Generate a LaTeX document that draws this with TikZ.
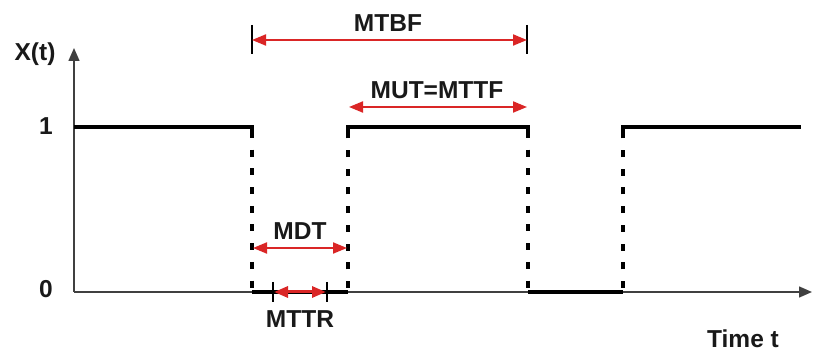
\documentclass[tikz,border=0pt]{standalone}
\usepackage{fontspec}
\setmainfont{Liberation Sans}
\usetikzlibrary{arrows.meta}
\definecolor{dimred}{RGB}{218,38,38}
\begin{document}
\begin{tikzpicture}[x=1pt,y=-1pt,
  lbl/.style={font=\fontsize{24.5}{24.5}\selectfont\bfseries, inner sep=0pt, text=black!90},
  sig/.style={line width=3.2pt, line join=miter},
  dsh/.style={line width=3.2pt, dash pattern=on 7pt off 11.7pt, dash phase=-4pt},
  axis/.style={line width=1.5pt, draw=black!75, -{Triangle[length=13pt,width=11pt]}},
  dim/.style={draw=dimred, line width=2pt, {Triangle[length=14pt,width=11pt]}-{Triangle[length=14pt,width=11pt]}},
  tickline/.style={line width=2pt}]
\useasboundingbox (0,0) rectangle (813,352);
% key points
\coordinate (O) at (74,292);
\coordinate (Ytop) at (74,48);
\coordinate (Xend) at (812,292);
\coordinate (a1) at (74,127);
\coordinate (a2) at (252,127);
\coordinate (a3) at (252,292);
\coordinate (b1) at (348,292);
\coordinate (b2) at (348,127);
\coordinate (c1) at (528,127);
\coordinate (c2) at (528,292);
\coordinate (d1) at (623,292);
\coordinate (d2) at (623,127);
\coordinate (e1) at (801,127);
% axes
\draw[axis] (O) -- (Xend);
\draw[axis] (O) -- (Ytop);
% signal
\draw[sig] (a1) -- (a2) -- ++(0,6);
\draw[dsh] (a2) -- (a3);
\draw[sig] (a3) -- (b1);
\draw[dsh] (b1) -- (b2);
\draw[sig] (b2) ++(0,6) -- (b2) -- (c1) -- ++(0,6);
\draw[dsh] (c1) -- (c2);
\draw[sig] (c2) -- (d1);
\draw[dsh] (d1) -- (d2);
\draw[sig] (d2) ++(0,6) -- (d2) -- (e1);
% labels
\node[lbl] (xt) at (35,54) {X(t)};
\node[lbl] (one) at (46,126) {1};
\node[lbl] (zero) at (46,289) {0};
\node[lbl] (time) at (743,339) {Time t};
\node[lbl] (mtbf) at (388,23) {MTBF};
\node[lbl] (mut) at (437,90) {MUT=MTTF};
\node[lbl] (mdt) at (300,231) {MDT};
\node[lbl] (mttr) at (300,319) {MTTR};
% MTBF dimension
\coordinate (t1a) at (252,25);
\coordinate (t1b) at (252,54);
\coordinate (t2a) at (527,25);
\coordinate (t2b) at (527,54);
\draw[tickline] (t1a) -- (t1b);
\draw[tickline] (t2a) -- (t2b);
\coordinate (m1) at (252,40);
\coordinate (m2) at (527,40);
\draw[dim] (m1) -- (m2);
% MUT
\coordinate (u1) at (349,107);
\coordinate (u2) at (527,107);
\draw[dim] (u1) -- (u2);
% MDT
\coordinate (v1) at (253,248);
\coordinate (v2) at (347,248);
\draw[dim] (v1) -- (v2);
% MTTR
\coordinate (r1a) at (273,282);
\coordinate (r1b) at (273,302);
\coordinate (r2a) at (327,282);
\coordinate (r2b) at (327,302);
\draw[tickline] (r1a) -- (r1b);
\draw[tickline] (r2a) -- (r2b);
\coordinate (w1) at (274,292);
\coordinate (w2) at (326,292);
\draw[dim, line width=3pt] (w1) -- (w2);
\end{tikzpicture}
\end{document}
